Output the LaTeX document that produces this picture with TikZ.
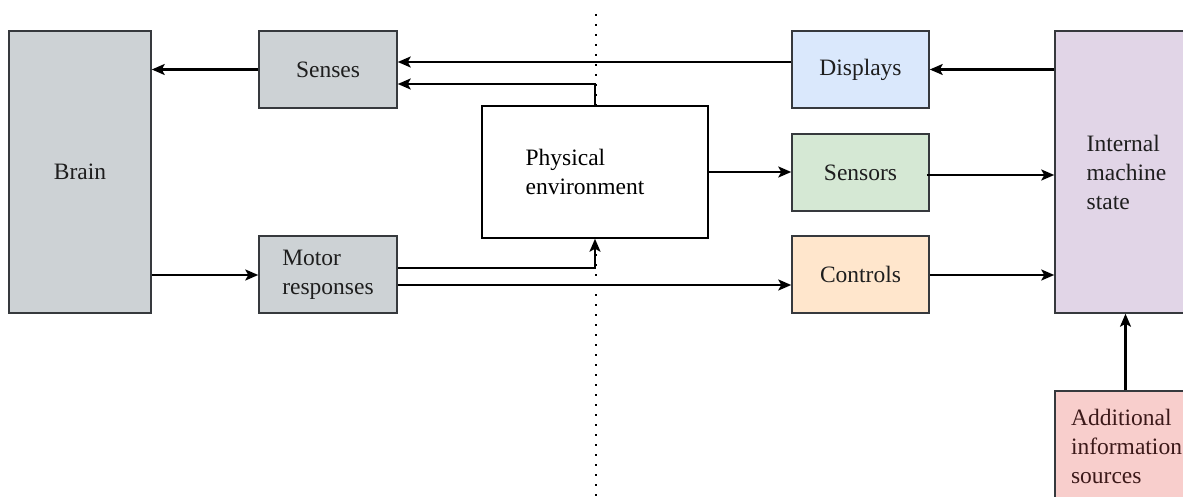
\documentclass[tikz,border=0pt]{standalone}
\usepackage{fontspec}
\setmainfont{Liberation Serif}
\usetikzlibrary{arrows.meta,calc}
\definecolor{grayfill}{RGB}{205,210,213}
\definecolor{bluefill}{RGB}{218,232,252}
\definecolor{greenfill}{RGB}{213,232,212}
\definecolor{orangefill}{RGB}{255,230,204}
\definecolor{purplefill}{RGB}{225,213,231}
\definecolor{redfill}{RGB}{248,206,204}
\definecolor{edgegray}{RGB}{54,57,61}
\definecolor{txt}{RGB}{30,30,30}
\begin{document}
\begin{tikzpicture}[x=1pt,y=-1pt,
  box/.style={draw=edgegray,line width=1.5pt,inner sep=0pt,text=txt,
    font=\fontsize{23.5}{29}\selectfont},
  lbl/.style={inner sep=0pt,align=left,text=txt,font=\fontsize{23.5}{29}\selectfont},
  arr/.style={line width=2.2pt,-{Stealth[length=13pt,width=11pt,inset=3pt]}},
  ln/.style={line width=2.2pt}]
\useasboundingbox (0,0) rectangle (1183,497);
\clip (0,0) rectangle (1183,497);
\fill[white] (0,0) rectangle (1183,497);
% dotted divider
\coordinate (dtop) at (595.5,14);
\coordinate (dbot) at (595.5,497);
\draw[line width=2pt,dash pattern=on 2pt off 8pt] (dtop) -- (dbot);
% boxes
\node[box,fill=grayfill,minimum width=142pt,minimum height=282pt] (brain) at (80,172) {Brain};
\node[box,fill=grayfill,minimum width=138pt,minimum height=77pt] (senses) at (328,69.5) {Senses};
\node[box,fill=grayfill,minimum width=138pt,minimum height=77pt] (motor) at (328,274.5) {};
\node[lbl] at (motor.center) {Motor\\responses};
\node[box,draw=black,fill=white,minimum width=226pt,minimum height=132pt] (phys) at (595,172) {};
\node[lbl,text=black] at (585,172) {Physical\\environment};
\node[box,fill=bluefill,minimum width=137pt,minimum height=77pt] (displays) at (860.5,69.5) {Displays};
\node[box,fill=greenfill,minimum width=137pt,minimum height=77pt] (sensors) at (860.5,172.5) {Sensors};
\node[box,fill=orangefill,minimum width=137pt,minimum height=77pt] (controls) at (860.5,274.5) {Controls};
\node[box,fill=purplefill,minimum width=141pt,minimum height=282pt] (internal) at (1125.5,172) {};
\node[lbl] at (1126.5,172.5) {Internal\\machine\\state};
\node[box,fill=redfill,minimum width=141pt,minimum height=129pt] (addl) at (1125.5,455.5) {};
\node[lbl,text={rgb,255:red,60;green,25;blue,25}] at (1126.5,446) {Additional\\information\\sources};
% helper levels
\coordinate (y62) at (0,62);
\coordinate (y84) at (0,84);
\coordinate (y175) at (0,175);
\coordinate (y268) at (0,268);
\coordinate (y285) at (0,285);
\coordinate (y275) at (0,275);
% connectors
\draw[arr] (senses.west) -- (senses.west -| brain.east);
\draw[arr] (displays.west |- y62) -- (senses.east |- y62);
\draw[arr] (phys.north) -- (phys.north |- y84) -- (senses.east |- y84);
\draw[arr] (internal.west |- displays.east) -- (displays.east);
\draw[arr] (phys.east) -- (phys.east -| sensors.west);
\draw[arr] ([xshift=-3pt]sensors.east |- y175) -- (internal.west |- y175);
\draw[arr] (brain.east |- y275) -- (motor.west |- y275);
\draw[arr] (motor.east |- y268) -- (phys.south |- y268) -- (phys.south);
\draw[arr] (motor.east |- y285) -- (controls.west |- y285);
\draw[arr] (controls.east |- y275) -- (internal.west |- y275);
\draw[arr] (addl.north) -- (internal.south);
\end{tikzpicture}
\end{document}
